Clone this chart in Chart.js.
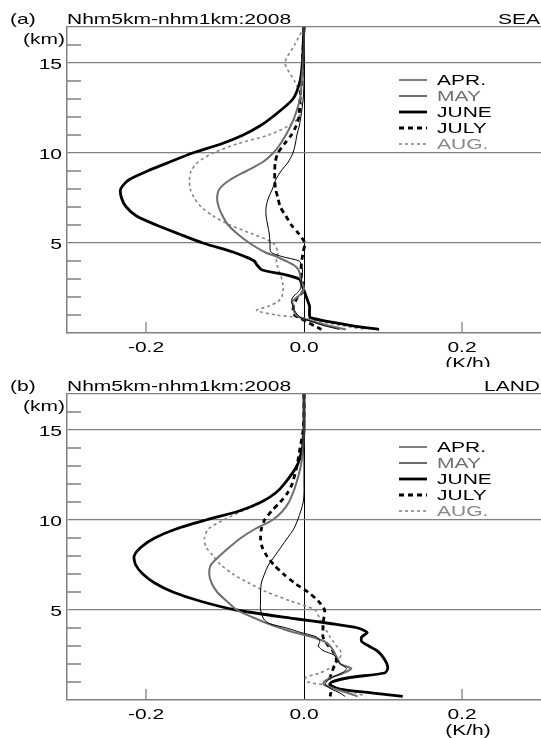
<!DOCTYPE html>
<html lang="en">
<head>
<meta charset="UTF-8">
<title>Nhm5km-nhm1km:2008</title>
<script src="https://cdn.jsdelivr.net/npm/chart.js"></script>
<style>
  body { margin: 0; background: #fff; }
  canvas { position: absolute; left: 0; }
</style>
</head>
<body>
<canvas id="sea" width="541" height="367" style="top:0"></canvas>
<canvas id="land" width="541" height="371" style="top:367px"></canvas>
<script>
// heights (km) shared by every profile
const heights = [17, 16, 15, 14, 13, 12, 11.5, 11, 10.5, 10, 9.5, 9, 8.5, 8, 7.5, 7, 6.5, 6, 5.5, 5,
  4.5, 4.25, 4, 3.75, 3.5, 3.25, 3, 2.75, 2.5, 2.25, 2, 1.75, 1.5, 1.25, 1, 0.85, 0.6, 0.4, 0.2];
const months = ['APR.', 'MAY', 'JUNE', 'JULY', 'AUG.'];
const xTicks = [-0.2, 0.0, 0.2];
const yTicks = [5, 10, 15];

// (a) SEA, K/h
const seaApr = [0, 0, 0, 0, -0.001, -0.004, -0.006, -0.009, -0.011, -0.014, -0.020, -0.029, -0.036, -0.040, -0.045, -0.048, -0.048, -0.046, -0.044, -0.043,
  -0.042, -0.028, -0.006, -0.003, -0.002, -0.002, -0.003, -0.004, -0.004, -0.008, -0.014, -0.016, -0.014, -0.012, -0.008, -0.004, 0.012, 0.026, 0.045];
const seaMay = [0, 0, -0.001, -0.003, -0.005, -0.012, -0.017, -0.023, -0.030, -0.039, -0.052, -0.073, -0.094, -0.107, -0.110, -0.108, -0.103, -0.096, -0.084, -0.069,
  -0.050, -0.035, -0.023, -0.012, -0.007, -0.005, -0.004, -0.002, 0, -0.002, -0.008, -0.015, -0.013, -0.013, -0.010, -0.004, 0.015, 0.032, 0.053];
const seaJun = [0, -0.001, -0.002, -0.005, -0.014, -0.040, -0.056, -0.077, -0.105, -0.141, -0.170, -0.198, -0.222, -0.232, -0.231, -0.225, -0.212, -0.187, -0.158, -0.128,
  -0.090, -0.075, -0.063, -0.059, -0.053, -0.025, -0.006, -0.003, -0.001, 0.001, 0.003, 0.005, 0.007, 0.007, 0.007, 0.008, 0.035, 0.062, 0.095];
const seaJul = [0, -0.001, -0.002, -0.003, -0.005, -0.0065, -0.010, -0.016, -0.025, -0.033, -0.0365, -0.037, -0.037, -0.036, -0.033, -0.030, -0.023, -0.016, -0.0065, 0.001,
  -0.001, -0.002, -0.003, -0.0035, -0.004, -0.004, -0.003, -0.0015, -0.0005, -0.002, -0.008, -0.011, -0.013, -0.014, -0.012, -0.006, 0.005, 0.013, 0.022];
const seaAug = [0, -0.012, -0.024, -0.012, -0.003, -0.0065, -0.020, -0.045, -0.085, -0.115, -0.134, -0.143, -0.145, -0.144, -0.139, -0.130, -0.115, -0.094, -0.065, -0.039,
  -0.033, -0.034, -0.035, -0.034, -0.032, -0.030, -0.028, -0.027, -0.026, -0.027, -0.028, -0.033, -0.044, -0.060, -0.035, -0.003, 0.025, 0.050, 0.078];

// (b) LAND, K/h
const landApr = [0, 0, 0, 0, 0, 0, 0, -0.001, -0.004, -0.008, -0.013, -0.021, -0.029, -0.037, -0.045, -0.050, -0.054, -0.055, -0.055, -0.055,
  -0.051, -0.044, -0.022, -0.004, 0.016, 0.020, 0.018, 0.024, 0.038, 0.042, 0.046, 0.054, 0.048, 0.035, 0.028, 0.027, 0.035, 0.045, 0.052];
const landMay = [0, 0, 0, -0.001, -0.004, -0.010, -0.014, -0.019, -0.027, -0.040, -0.062, -0.080, -0.094, -0.107, -0.118, -0.120, -0.117, -0.110, -0.098, -0.085,
  -0.060, -0.046, -0.030, -0.012, 0.010, 0.026, 0.033, 0.037, 0.040, 0.043, 0.046, 0.060, 0.050, 0.035, 0.025, 0.025, 0.040, 0.055, 0.068];
const landJun = [0, 0, 0, -0.002, -0.009, -0.025, -0.036, -0.054, -0.082, -0.124, -0.162, -0.189, -0.206, -0.215, -0.213, -0.204, -0.189, -0.166, -0.132, -0.086,
  -0.009, 0.033, 0.068, 0.080, 0.073, 0.073, 0.082, 0.092, 0.098, 0.102, 0.105, 0.106, 0.102, 0.058, 0.035, 0.033, 0.045, 0.085, 0.125];
const landJul = [0, 0, -0.001, -0.005, -0.009, -0.015, -0.021, -0.030, -0.041, -0.050, -0.054, -0.055, -0.053, -0.047, -0.038, -0.026, -0.012, 0.005, 0.018, 0.026,
  0.025, 0.024, 0.024, 0.024, 0.024, 0.027, 0.031, 0.036, 0.039, 0.041, 0.040, 0.037, 0.035, 0.033, 0.032, 0.033, 0.034, 0.034, 0.033];
const landAug = [0, 0, -0.001, -0.004, -0.009, -0.025, -0.037, -0.053, -0.078, -0.102, -0.121, -0.126, -0.124, -0.115, -0.105, -0.090, -0.070, -0.047, -0.017, 0.014,
  0.020, 0.022, 0.026, 0.030, 0.033, 0.037, 0.041, 0.046, 0.047, 0.044, 0.040, 0.032, 0.020, 0.002, 0.005, 0.025, 0.050, 0.065, 0.078];

const lineStyles = [
  { color: '#000', width: 1, dash: [] },
  { color: '#6e6e6e', width: 2, dash: [] },
  { color: '#000', width: 2.8, dash: [] },
  { color: '#000', width: 2.8, dash: [5, 4] },
  { color: '#858585', width: 1.6, dash: [3, 3] }
];
const legendTextColors = ['#000', '#707070', '#000', '#000', '#888'];

const FONT = '15px "Liberation Sans", Arial, sans-serif';

// the original lettering is wide, so stretch it sideways
function stretchText(ctx, s, x, y, align, color) {
  ctx.save();
  ctx.translate(x, y);
  ctx.scale(1.4, 1);
  ctx.font = FONT;
  ctx.fillStyle = color || '#000';
  ctx.textAlign = align;
  ctx.textBaseline = 'alphabetic';
  ctx.fillText(s, 0, 0);
  ctx.restore();
}

const decorations = {
  id: 'decorations',
  afterDraw(chart, args, opts) {
    const { ctx, chartArea: a, scales: { x, y } } = chart;
    ctx.save();
    // inward minor ticks
    ctx.strokeStyle = '#808080';
    ctx.lineWidth = 1.3;
    ctx.beginPath();
    for (let v = 1; v < 17; v++) {
      if (v % 5 === 0) continue;
      const py = y.getPixelForValue(v);
      ctx.moveTo(a.left, py);
      ctx.lineTo(a.left + 14, py);
    }
    xTicks.forEach(v => {
      if (v === 0) return;
      const px = x.getPixelForValue(v);
      ctx.moveTo(px, a.bottom);
      ctx.lineTo(px, a.bottom - 11);
    });
    ctx.stroke();

    yTicks.forEach(v => stretchText(ctx, String(v), a.left - 5, y.getPixelForValue(v) + 5.5, 'right'));
    xTicks.forEach(v => stretchText(ctx, v.toFixed(1), x.getPixelForValue(v), a.bottom + 19, 'center'));
    stretchText(ctx, '(K/h)', x.getPixelForValue(0.2) + 6, a.bottom + 35, 'center');
    stretchText(ctx, '(km)', a.left - 2, a.top + 17, 'right');
    stretchText(ctx, opts.tag, 10, a.top - 3, 'left');
    stretchText(ctx, opts.title, a.left, a.top - 3, 'left');
    stretchText(ctx, opts.region, a.right - 1, a.top - 3, 'right');

    // legend
    chart.data.datasets.forEach((ds, i) => {
      const by = a.top + 58 + 16 * i;
      ctx.beginPath();
      ctx.setLineDash(ds.borderDash);
      ctx.strokeStyle = ds.borderColor;
      ctx.lineWidth = ds.borderWidth;
      ctx.moveTo(399, by - 5);
      ctx.lineTo(427, by - 5);
      ctx.stroke();
      ctx.setLineDash([]);
      stretchText(ctx, ds.label, 437, by, 'left', legendTextColors[i]);
    });
    ctx.restore();
  }
};

function makeChart(id, series, tag, region, bottomPad) {
  return new Chart(document.getElementById(id), {
    type: 'scatter',
    data: {
      datasets: months.map((m, i) => ({
        label: m,
        data: heights.map((h, k) => ({ x: series[i][k], y: h })),
        showLine: true,
        borderColor: lineStyles[i].color,
        borderWidth: lineStyles[i].width,
        borderDash: lineStyles[i].dash,
        pointRadius: 0,
        tension: 0.25,
        fill: false
      }))
    },
    options: {
      responsive: false,
      animation: false,
      devicePixelRatio: 1,
      layout: { padding: { left: 67, top: 27, right: 0, bottom: bottomPad } },
      plugins: {
        legend: { display: false },
        tooltip: { enabled: false },
        decorations: { tag: tag, title: 'Nhm5km-nhm1km:2008', region: region }
      },
      scales: {
        x: {
          type: 'linear', min: -0.3, max: 0.3,
          ticks: { display: false, stepSize: 0.1 },
          grid: {
            drawTicks: false, lineWidth: 1,
            color: c => Math.abs(c.tick.value) < 1e-9 ? '#000' : 'rgba(0,0,0,0)'
          },
          border: { color: '#808080', width: 1.5 },
          afterFit: s => { s.height = 0; }
        },
        y: {
          type: 'linear', min: 0, max: 17,
          ticks: { display: false, stepSize: 1 },
          grid: {
            drawTicks: false, lineWidth: 1.3,
            color: c => [5, 10, 15, 17].includes(c.tick.value) ? '#808080' : 'rgba(0,0,0,0)'
          },
          border: { color: '#808080', width: 1.5 },
          afterFit: s => { s.width = 0; }
        }
      }
    },
    plugins: [decorations]
  });
}

makeChart('sea', [seaApr, seaMay, seaJun, seaJul, seaAug], '(a)', 'SEA', 34);
makeChart('land', [landApr, landMay, landJun, landJul, landAug], '(b)', 'LAND', 38);
</script>
</body>
</html>
